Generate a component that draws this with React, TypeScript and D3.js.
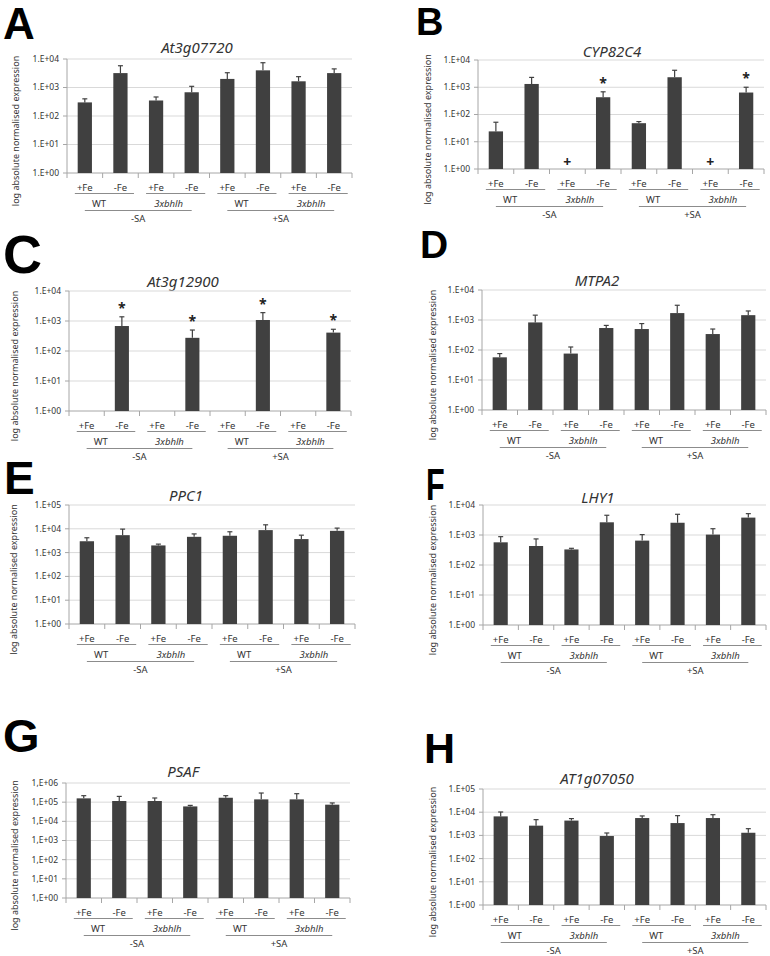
import React from 'react';
import * as d3 from 'd3';

// ---------- data ----------
const categories = ['+Fe', '-Fe', '+Fe', '-Fe', '+Fe', '-Fe', '+Fe', '-Fe'];
const genotypeLabels = ['WT', '3xbhlh', 'WT', '3xbhlh'];
const treatmentLabels = ['-SA', '+SA'];

const titleA = 'At3g07720';
const valuesA = [300, 3200, 350, 680, 2000, 4000, 1650, 3200];
const upperA = [400, 5800, 465, 1100, 3300, 7400, 2400, 4500];
const marksA = ['', '', '', '', '', '', '', ''];

const titleB = 'CYP82C4';
const valuesB = [24, 1320, 0, 430, 48, 2330, 0, 640];
const upperB = [52, 2300, 0, 680, 55, 4200, 0, 1000];
const marksB = ['', '', '+', '*', '', '', '+', '*'];

const titleC = 'At3g12900';
const valuesC = [0, 680, 0, 275, 0, 1080, 0, 410];
const upperC = [0, 1380, 0, 500, 0, 1900, 0, 530];
const marksC = ['', '*', '', '*', '', '*', '', '*'];

const titleD = 'MTPA2';
const valuesD = [57, 830, 76, 540, 500, 1700, 340, 1450];
const upperD = [76, 1450, 126, 660, 760, 3100, 500, 2000];
const marksD = ['', '', '', '', '', '', '', ''];

const titleE = 'PPC1';
const valuesE = [3000, 5400, 2000, 4600, 5100, 8800, 3700, 8200];
const upperE = [4200, 9700, 2270, 6100, 7500, 14700, 5400, 10700];
const marksE = ['', '', '', '', '', '', '', ''];

const titleF = 'LHY1';
const valuesF = [570, 430, 330, 2650, 650, 2560, 1030, 3800];
const upperF = [880, 740, 360, 4550, 1030, 4900, 1620, 5150];
const marksF = ['', '', '', '', '', '', '', ''];

const titleG = 'PSAF';
const valuesG = [158000, 115000, 115000, 60000, 170000, 140000, 140000, 74000];
const upperG = [218000, 200000, 165000, 68000, 218000, 300000, 277000, 91000];
const marksG = ['', '', '', '', '', '', '', ''];

const titleH = 'AT1g07050';
const valuesH = [6600, 2630, 4350, 940, 5600, 3400, 5600, 1300];
const upperH = [10200, 4770, 5300, 1270, 6900, 7100, 7800, 1950];
const marksH = ['', '', '', '', '', '', '', ''];

const yAxisTitle = 'log absolute normalised expression';

// ---------- layout ----------
type PanelCfg = {
  letter: string; title: string; values: number[]; upper: number[]; marks: string[];
  left: number; right: number; top: number; bottom: number; maxExp: number; sep: string;
  titleX: number; titleY: number; letterX: number; letterY: number; letterSize: number; letterSx: number; ylabX: number;
};

const panels: PanelCfg[] = [
  { letter: 'A', title: titleA, values: valuesA, upper: upperA, marks: marksA, left: 67, right: 352, top: 59, bottom: 173, maxExp: 4, sep: '.', titleX: 197, titleY: 48, letterX: 3, letterY: 39, letterSize: 44, letterSx: 1, ylabX: 16 },
  { letter: 'B', title: titleB, values: valuesB, upper: upperB, marks: marksB, left: 478, right: 764, top: 60, bottom: 169, maxExp: 4, sep: '.', titleX: 612, titleY: 52, letterX: 416, letterY: 35, letterSize: 38, letterSx: 1, ylabX: 428 },
  { letter: 'C', title: titleC, values: valuesC, upper: upperC, marks: marksC, left: 69, right: 351, top: 291, bottom: 411, maxExp: 4, sep: '.', titleX: 183, titleY: 282, letterX: 3, letterY: 273, letterSize: 54, letterSx: 1, ylabX: 15 },
  { letter: 'D', title: titleD, values: valuesD, upper: upperD, marks: marksD, left: 482, right: 766, top: 290, bottom: 410, maxExp: 4, sep: '.', titleX: 597, titleY: 281, letterX: 420, letterY: 258, letterSize: 39, letterSx: 1, ylabX: 433 },
  { letter: 'E', title: titleE, values: valuesE, upper: upperE, marks: marksE, left: 69, right: 355, top: 505, bottom: 624, maxExp: 5, sep: '.', titleX: 186, titleY: 496, letterX: 4, letterY: 494, letterSize: 46, letterSx: 1, ylabX: 14 },
  { letter: 'F', title: titleF, values: valuesF, upper: upperF, marks: marksF, left: 483, right: 766, top: 505, bottom: 625, maxExp: 4, sep: '.', titleX: 598, titleY: 498, letterX: 426, letterY: 500, letterSize: 45, letterSx: 0.68, ylabX: 433 },
  { letter: 'G', title: titleG, values: valuesG, upper: upperG, marks: marksG, left: 66, right: 350, top: 783, bottom: 898, maxExp: 6, sep: ',', titleX: 183, titleY: 772, letterX: 3, letterY: 752, letterSize: 47, letterSx: 1, ylabX: 15 },
  { letter: 'H', title: titleH, values: valuesH, upper: upperH, marks: marksH, left: 483, right: 766, top: 789, bottom: 905, maxExp: 5, sep: '.', titleX: 597, titleY: 779, letterX: 424, letterY: 763, letterSize: 43, letterSx: 1, ylabX: 433 },
];

const BAR = '#404040';
const GRID = '#d9d9d9';
const AXIS = '#a6a6a6';
const TEXT = '#333333';
const FONT = '"Noto Sans", "Liberation Sans", Arial, sans-serif';

function Panel({ p }: { p: PanelCfg }) {
  const x = d3.scaleBand<number>().domain(d3.range(categories.length)).range([p.left, p.right]).padding(0);
  const bw = x.bandwidth();
  const y = d3.scaleLog().domain([1, Math.pow(10, p.maxExp)]).range([p.bottom, p.top]);
  const ticks = d3.range(0, p.maxExp + 1).map((e) => Math.pow(10, e));
  const fmt = (v: number) => `1${p.sep}E+${String(Math.round(Math.log10(v))).padStart(2, '0')}`;
  const barW = bw * 0.4;
  const ylabY = (p.top + p.bottom + 30) / 2;

  return (
    <g fontFamily={FONT}>
      <text transform={`translate(${p.letterX},${p.letterY}) scale(${p.letterSx},1)`} fontSize={p.letterSize} fontWeight={700} fill="#000" fontFamily='"Liberation Sans", Arial, sans-serif'>{p.letter}</text>
      <text x={p.titleX} y={p.titleY} dy="0.35em" textAnchor="middle" fontSize={15} fontStyle="italic" fill={TEXT}>{p.title}</text>
      <text transform={`translate(${p.ylabX},${ylabY}) rotate(-90)`} textAnchor="middle" dy="0.35em" fontSize={9} fill={TEXT}>{yAxisTitle}</text>
      {ticks.map((t) => (
        <g key={t}>
          {t > 1 && <line x1={p.left} x2={p.right} y1={y(t)} y2={y(t)} stroke={GRID} strokeWidth={1} />}
          <line x1={p.left - 4} x2={p.left} y1={y(t)} y2={y(t)} stroke={AXIS} strokeWidth={1} />
          <text x={p.left - 8} y={y(t)} dy="0.35em" textAnchor="end" fontSize={8.5} fill={TEXT}>{fmt(t)}</text>
        </g>
      ))}
      <line x1={p.left} x2={p.left} y1={p.top} y2={p.bottom} stroke={AXIS} strokeWidth={1} />
      <line x1={p.left} x2={p.right} y1={p.bottom} y2={p.bottom} stroke={AXIS} strokeWidth={1} />
      {d3.range(categories.length + 1).map((i) => {
        const xx = p.left + i * bw;
        return <line key={i} x1={xx} x2={xx} y1={p.bottom} y2={p.bottom + 5} stroke={AXIS} strokeWidth={1} />;
      })}
      {p.values.map((v, i) => {
        const cx = (x(i) as number) + bw / 2;
        const u = p.upper[i];
        return (
          <g key={i}>
            {v > 0 && <rect x={cx - barW / 2} width={barW} y={y(v)} height={p.bottom - y(v)} fill={BAR} />}
            {v > 0 && u > v && (
              <g stroke={BAR} strokeWidth={1.2}>
                <line x1={cx} x2={cx} y1={y(v)} y2={y(u)} />
                <line x1={cx - 2.5} x2={cx + 2.5} y1={y(u)} y2={y(u)} />
              </g>
            )}
            {p.marks[i] === '*' && (
              <text x={cx} y={y(Math.max(u, v)) - 9} dy="0.35em" textAnchor="middle" fontSize={14} fontWeight={700} fill="#222">*</text>
            )}
            {p.marks[i] === '+' && (
              <text x={cx} y={p.bottom - 7} dy="0.35em" textAnchor="middle" fontSize={14} fontWeight={700} fill="#222">+</text>
            )}
            <text x={cx} y={p.bottom + 15} dy="0.35em" textAnchor="middle" fontSize={9.5} fill={TEXT}>{categories[i]}</text>
          </g>
        );
      })}
      {genotypeLabels.map((g, j) => {
        const x0 = p.left + j * 2 * bw;
        return (
          <line key={j} x1={x0 + 0.22 * bw} x2={x0 + 1.88 * bw} y1={p.bottom + 20.5} y2={p.bottom + 20.5} stroke="#8c8c8c" strokeWidth={1} />
        );
      })}
      {treatmentLabels.map((t, k) => {
        const x0 = p.left + k * 4 * bw;
        return (
          <g key={k}>
            <text x={x0 + 0.9 * bw} y={p.bottom + 31} dy="0.35em" textAnchor="middle" fontSize={9.5} fill={TEXT}>{genotypeLabels[k * 2]}</text>
            <text x={x0 + 2.85 * bw} y={p.bottom + 31} dy="0.35em" textAnchor="middle" fontSize={9.5} fontStyle="italic" fill={TEXT}>{genotypeLabels[k * 2 + 1]}</text>
            <line x1={x0 + 0.5 * bw} x2={x0 + 3.5 * bw} y1={p.bottom + 37.5} y2={p.bottom + 37.5} stroke="#8c8c8c" strokeWidth={1} />
            <text x={x0 + 2 * bw} y={p.bottom + 46} dy="0.35em" textAnchor="middle" fontSize={9.5} fill={TEXT}>{t}</text>
          </g>
        );
      })}
    </g>
  );
}

export default function App() {
  return (
    <svg width={770} height={956} viewBox="0 0 770 956" style={{ position: 'absolute', left: 0, top: 0, background: '#fff' }}>
      <rect width={770} height={956} fill="#fff" />
      {panels.map((p) => <Panel key={p.letter} p={p} />)}
    </svg>
  );
}
